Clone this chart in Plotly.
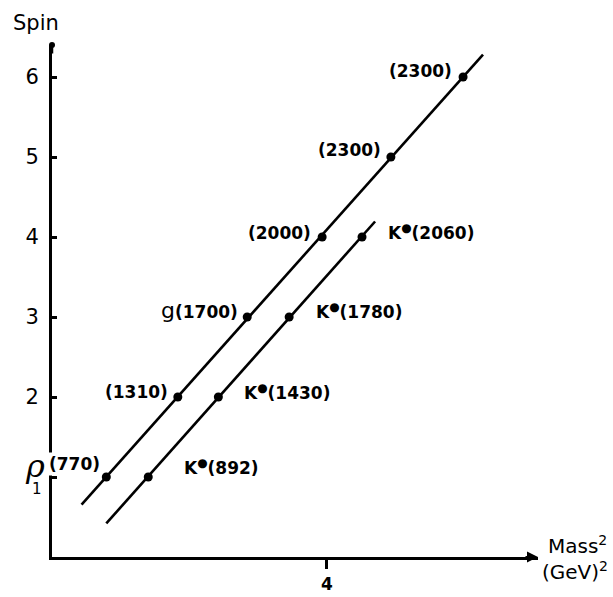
import numpy as np
import plotly.graph_objects as go

# rho trajectory (leading mesons, spin vs mass squared)
rho_mass2 = [0.79, 1.83, 2.84, 3.93, 4.93, 5.98]
rho_spin = [1, 2, 3, 4, 5, 6]
rho_labels = ["(770)", "(1310)", "g(1700)", "(2000)", "(2300)", "(2300)"]

# K* trajectory
kstar_mass2 = [1.40, 2.42, 3.45, 4.51]
kstar_spin = [1, 2, 3, 4]
kstar_labels = ["(892)", "(1430)", "(1780)", "(2060)"]

# mass^2 extent of each drawn straight-line trajectory
rho_line_extent = [0.43, 6.27]
kstar_line_extent = [0.79, 4.70]

x_range = [0, 7.07]
y_range = [0, 6.4]
spin_ticks = [1, 2, 3, 4, 5, 6]
mass_ticks = [4]

FONT = "DejaVu Sans"
INK = "black"


def trajectory(mass2, spin, extent):
    slope, icept = np.polyfit(mass2, spin, 1)
    xs = np.array(extent)
    return xs, slope * xs + icept


fig = go.Figure()

for m2, sp, ext in [(rho_mass2, rho_spin, rho_line_extent),
                    (kstar_mass2, kstar_spin, kstar_line_extent)]:
    lx, ly = trajectory(m2, sp, ext)
    fig.add_trace(go.Scatter(x=lx, y=ly, mode="lines",
                             line=dict(color=INK, width=2.6),
                             hoverinfo="skip"))
    fig.add_trace(go.Scatter(x=m2, y=sp, mode="markers",
                             marker=dict(color=INK, size=9),
                             hoverinfo="skip"))

label_font = dict(family=FONT, size=17, color=INK)
annotations = []

# rho family labels sit to the left of their points
rho_dx = [0, -9, -8, -10, -9, -10]
rho_dy = [0, 5, 7, 4, 7, 6]
for i, (m2, sp, lab) in enumerate(zip(rho_mass2, rho_spin, rho_labels)):
    if i == 0:
        continue
    if lab.startswith("g"):
        text = "<span style='font-size:22px;font-weight:normal'>g</span><b>" + lab[1:] + "</b>"
    else:
        text = "<b>" + lab + "</b>"
    annotations.append(dict(x=m2, y=sp, text=text, showarrow=False,
                            xanchor="right", yanchor="middle",
                            xshift=rho_dx[i], yshift=rho_dy[i],
                            font=label_font, borderpad=0))

# rho(770): large rho with the mass tag, whose white box breaks the spin axis
annotations.append(dict(x=rho_mass2[0], y=rho_spin[0],
                        text="<b>(770)</b>", showarrow=False,
                        xanchor="right", yanchor="middle",
                        xshift=-4, yshift=13, font=label_font,
                        bgcolor="white", borderpad=1))
annotations.append(dict(x=rho_mass2[0], y=rho_spin[0], text="<i>ρ</i>",
                        showarrow=False, xanchor="center", yanchor="middle",
                        xshift=-71, yshift=11,
                        font=dict(family="DejaVu Serif", size=32, color=INK)))

# K* family labels sit to the right of their points
kstar_dx = [35, 25, 26, 25]
kstar_dy = [10, 5, 6, 5]
for i, (m2, sp, lab) in enumerate(zip(kstar_mass2, kstar_spin, kstar_labels)):
    annotations.append(dict(x=m2, y=sp,
                            text="<b>K<sup>●</sup>" + lab + "</b>",
                            showarrow=False, xanchor="left", yanchor="middle",
                            xshift=kstar_dx[i], yshift=kstar_dy[i],
                            font=label_font, borderpad=0))

# tick label for spin 1, set a little below the tick
annotations.append(dict(x=0, y=1, text="1", showarrow=False,
                        xanchor="center", yanchor="middle",
                        xshift=-15, yshift=-12,
                        font=dict(family=FONT, size=15, color=INK)))

# axis arrowheads
annotations.append(dict(x=x_range[1], y=0, ax=-14, ay=0, text="",
                        showarrow=True, arrowhead=2, arrowsize=1,
                        arrowwidth=2.2, arrowcolor=INK,
                        xref="x", yref="y", axref="pixel", ayref="pixel"))
annotations.append(dict(x=0, y=y_range[1], ax=0, ay=10, text="",
                        showarrow=True, arrowhead=6, arrowsize=0.6,
                        arrowwidth=2.5, arrowcolor=INK,
                        xref="x", yref="y", axref="pixel", ayref="pixel"))

# axis titles
annotations.append(dict(xref="paper", yref="paper", x=-0.033, y=1.043,
                        text="Spin", showarrow=False,
                        xanchor="center", yanchor="middle",
                        font=dict(family=FONT, size=21, color=INK)))
annotations.append(dict(xref="paper", yref="paper", x=1.016, y=0.024,
                        text="Mass<sup>2</sup>", showarrow=False,
                        xanchor="left", yanchor="middle",
                        font=dict(family=FONT, size=20, color=INK)))
annotations.append(dict(xref="paper", yref="paper", x=1.004, y=-0.028,
                        text="(GeV)<sup>2</sup>", showarrow=False,
                        xanchor="left", yanchor="middle",
                        font=dict(family=FONT, size=20, color=INK)))

fig.update_layout(
    width=613, height=597,
    margin=dict(l=52, r=75, t=45, b=40, autoexpand=False),
    paper_bgcolor="white", plot_bgcolor="white",
    showlegend=False,
    annotations=annotations,
    xaxis=dict(range=x_range, showline=True, linecolor=INK, linewidth=3,
               showgrid=False, zeroline=False, automargin=False,
               ticks="outside", ticklen=9, tickwidth=3, tickcolor=INK,
               tickvals=mass_ticks, ticktext=["<b>%d</b>" % v for v in mass_ticks],
               tickfont=dict(family=FONT, size=17, color=INK),
               ticklabelstandoff=1),
    yaxis=dict(range=y_range, showline=True, linecolor=INK, linewidth=3,
               showgrid=False, zeroline=False, automargin=False,
               ticks="inside", ticklen=5, tickwidth=3, tickcolor=INK,
               tickvals=spin_ticks,
               ticktext=["" if v == 1 else str(v) for v in spin_ticks],
               tickfont=dict(family=FONT, size=21, color=INK),
               ticklabelstandoff=6),
)

fig.write_html("out.html")
